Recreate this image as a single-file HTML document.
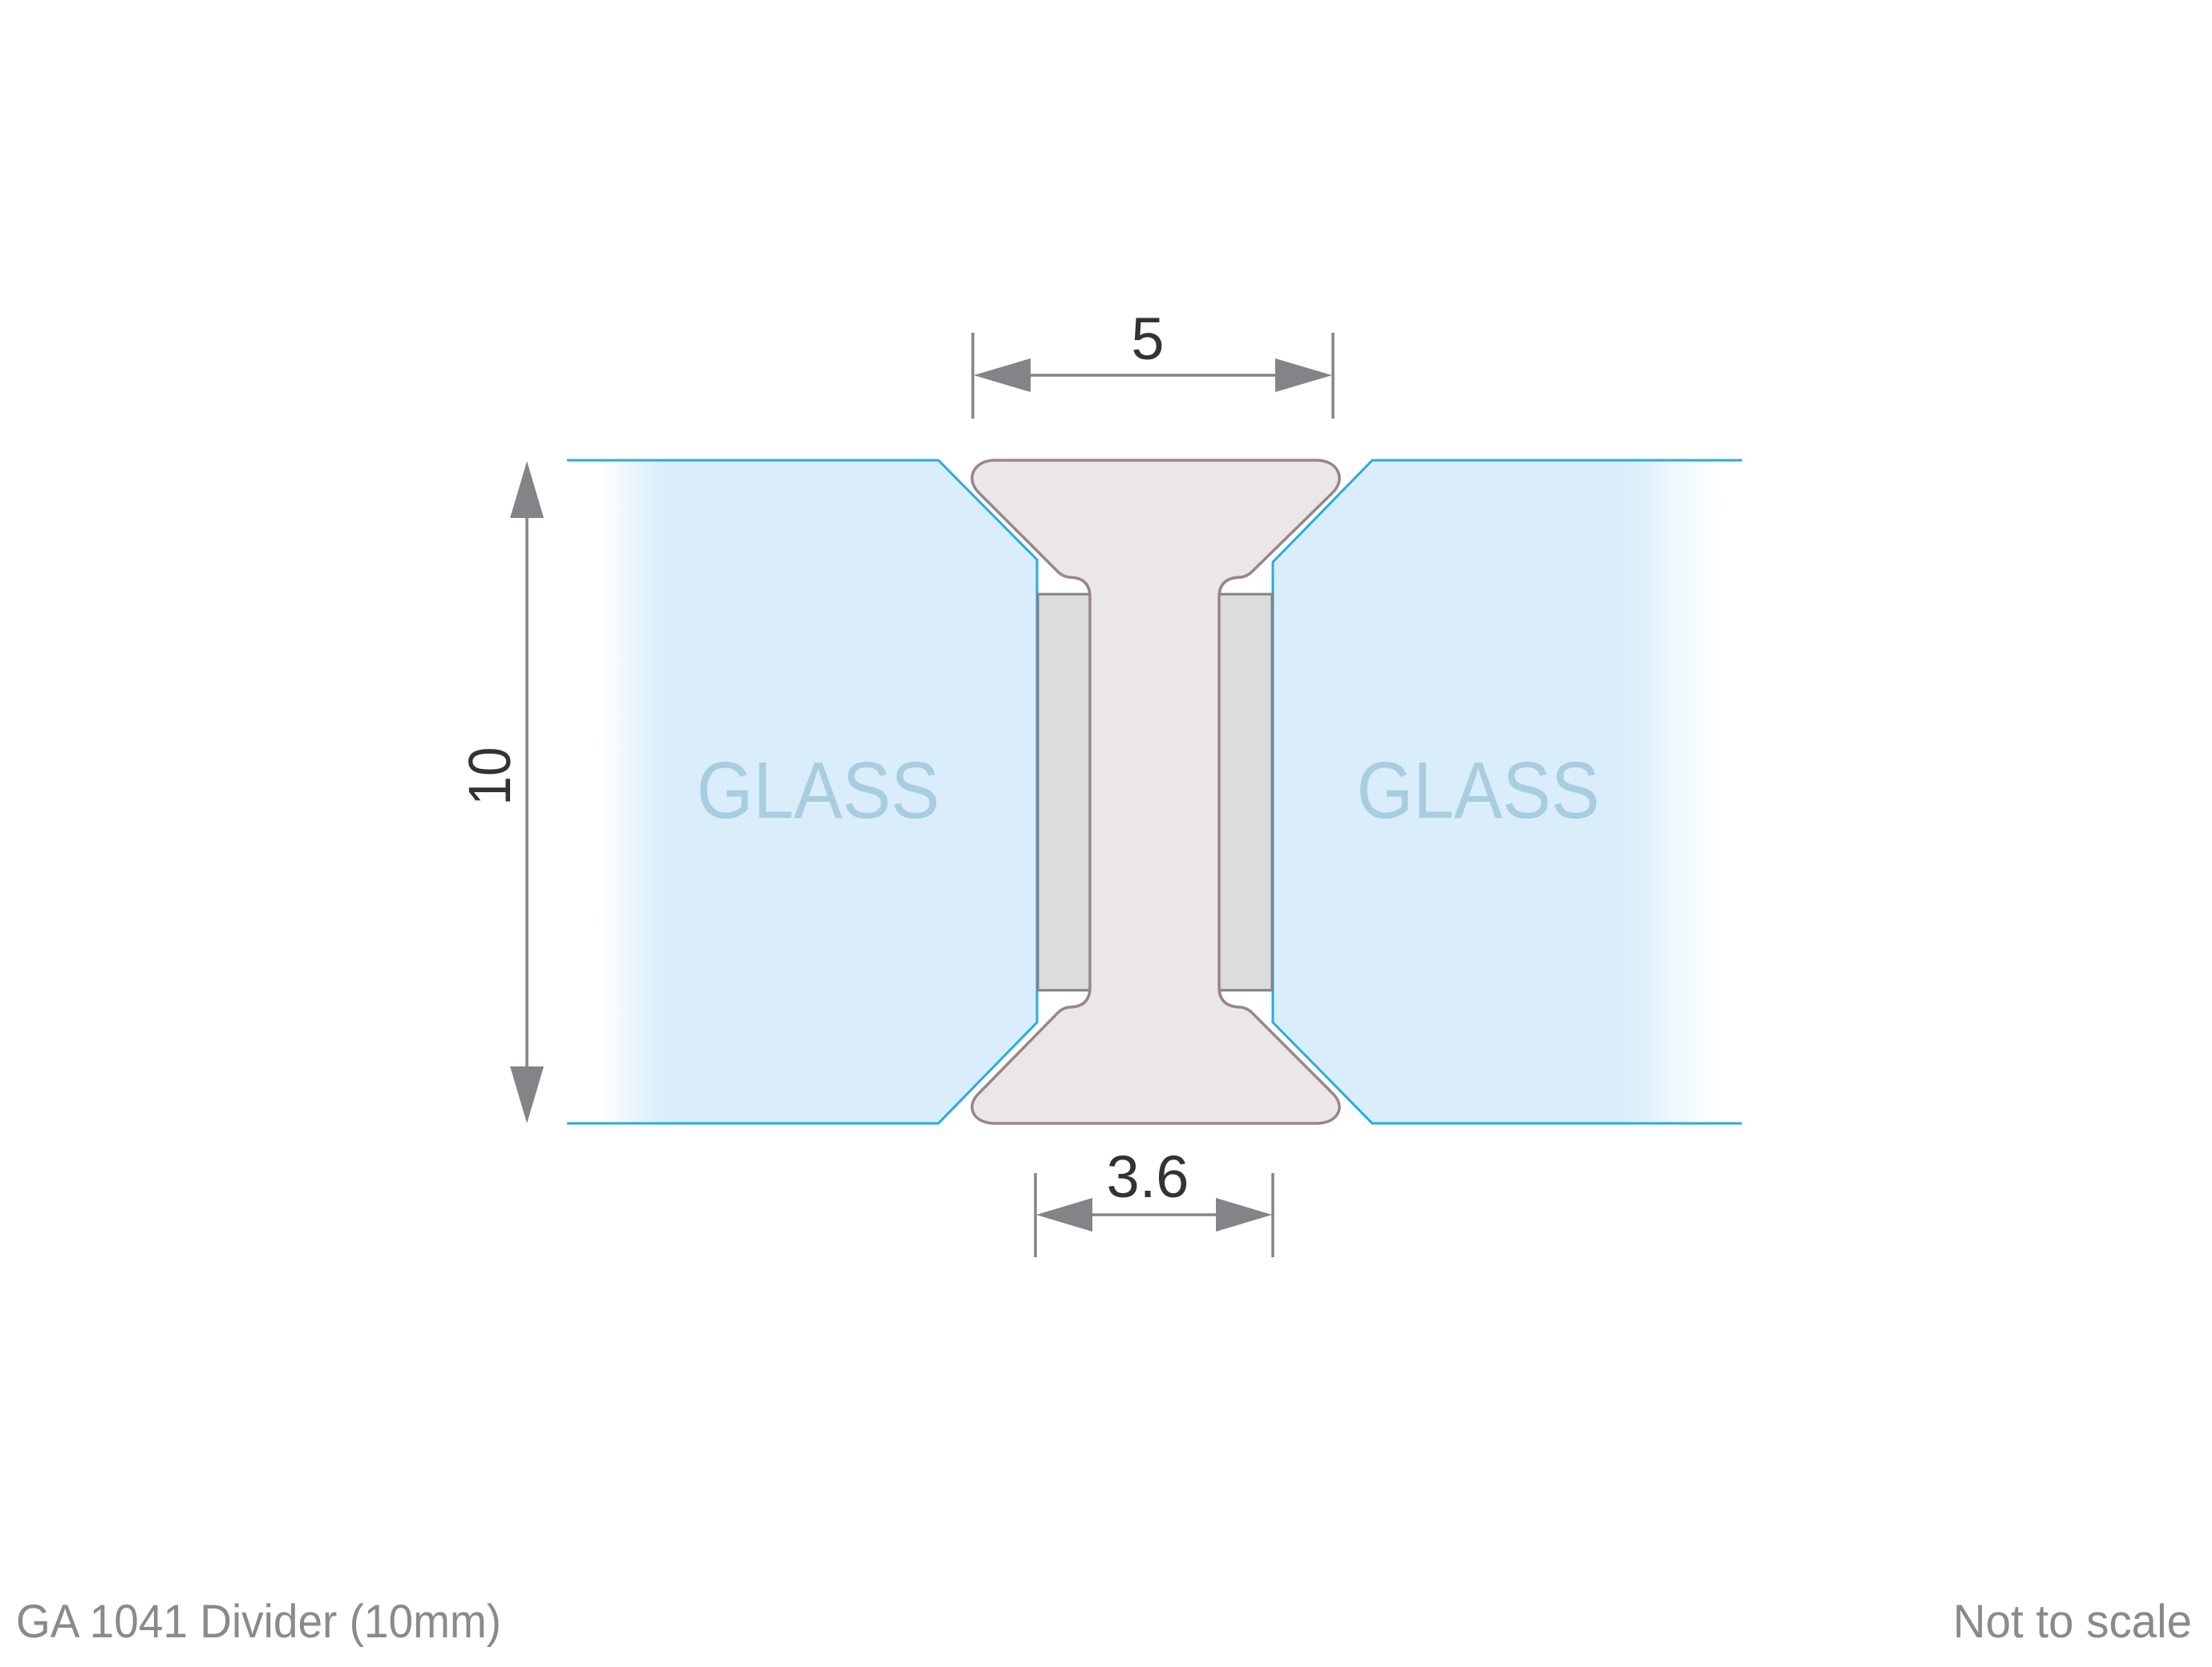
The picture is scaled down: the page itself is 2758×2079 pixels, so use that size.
<!DOCTYPE html>
<html><head><meta charset="utf-8"><style>
html,body{margin:0;padding:0;background:#fff;}
svg{display:block;}
text{font-family:"Liberation Sans",sans-serif;}
</style></head><body>
<svg width="2758" height="2079" viewBox="0 0 2758 2079" xmlns="http://www.w3.org/2000/svg">
<defs>
<linearGradient id="gl" x1="707" y1="0" x2="1293" y2="0" gradientUnits="userSpaceOnUse">
<stop offset="0" stop-color="#ffffff"/><stop offset="0.07" stop-color="#ffffff"/><stop offset="0.2" stop-color="#d9eefa"/><stop offset="1" stop-color="#d9eefa"/>
</linearGradient>
<linearGradient id="gr" x1="2172" y1="0" x2="1587" y2="0" gradientUnits="userSpaceOnUse">
<stop offset="0" stop-color="#ffffff"/><stop offset="0.05" stop-color="#ffffff"/><stop offset="0.25" stop-color="#d9eefa"/><stop offset="1" stop-color="#d9eefa"/>
</linearGradient>
</defs>
<rect width="2758" height="2079" fill="#fff"/>
<!-- glass -->
<polygon points="707,574 1170,574 1293,698 1293,1275 1170,1401 707,1401" fill="url(#gl)"/>
<polyline points="707,574 1170,574 1293,698 1293,1275 1170,1401 707,1401" fill="none" stroke="#29abe2" stroke-width="3"/>
<polygon points="2172,574 1711,574 1587,701 1587,1275 1711,1401 2172,1401" fill="url(#gr)"/>
<polyline points="2172,574 1711,574 1587,701 1587,1275 1711,1401 2172,1401" fill="none" stroke="#29abe2" stroke-width="3"/>
<text x="1020" y="1020" font-size="100" fill="#a9cddf" text-anchor="middle" textLength="303" lengthAdjust="spacingAndGlyphs">GLASS</text>
<text x="1843" y="1020" font-size="100" fill="#a9cddf" text-anchor="middle" textLength="303" lengthAdjust="spacingAndGlyphs">GLASS</text>
<!-- pads -->
<rect x="1294" y="741" width="65" height="494" fill="#dcdcde" stroke="#808083" stroke-width="3"/>
<rect x="1520" y="741" width="66" height="494" fill="#dcdcde" stroke="#808083" stroke-width="3"/>
<!-- profile -->
<path d="M1240,574 L1642,574 C1668,574 1680,598 1660,616 L1560,714 Q1553,720 1545,720 Q1520,721 1520,745 L1520,1231 Q1520,1255 1545,1256 Q1553,1256 1560,1262 L1660,1362 C1680,1380 1668,1401 1642,1401 L1240,1401 C1214,1401 1202,1380 1222,1362 L1320,1262 Q1327,1256 1335,1256 Q1359,1255 1359,1231 L1359,745 Q1359,721 1335,720 Q1327,720 1320,714 L1222,616 C1202,598 1214,574 1240,574 Z" fill="#ebe7e8" stroke="#9a8586" stroke-width="3.5"/>
<!-- top dim -->
<g stroke="#838487" stroke-width="3.5">
<line x1="1213" y1="415" x2="1213" y2="522"/><line x1="1662" y1="415" x2="1662" y2="522"/>
<line x1="1280" y1="468" x2="1596" y2="468"/>
<line x1="1291" y1="1463" x2="1291" y2="1568"/><line x1="1587" y1="1463" x2="1587" y2="1568"/>
<line x1="1360" y1="1515" x2="1520" y2="1515"/>
<line x1="657" y1="640" x2="657" y2="1335"/>
</g>
<g fill="#838487">
<polygon points="1214,468 1285,447 1285,489"/><polygon points="1661,468 1590,447 1590,489"/>
<polygon points="1292,1515 1362,1494 1362,1536"/><polygon points="1586,1515 1516,1494 1516,1536"/>
<polygon points="657,575 636,646 678,646"/><polygon points="657,1401 636,1330 678,1330"/>
</g>
<text x="1431" y="448" font-size="74" fill="#333335" text-anchor="middle">5</text>
<text x="1431" y="1493" font-size="74" fill="#333335" text-anchor="middle" textLength="103" lengthAdjust="spacingAndGlyphs">3.6</text>
<text transform="translate(636,968) rotate(-90)" font-size="74" fill="#333335" text-anchor="middle" textLength="73" lengthAdjust="spacingAndGlyphs">10</text>
<text x="20" y="2042" font-size="58" fill="#8a8a8d" textLength="605" lengthAdjust="spacingAndGlyphs">GA 1041 Divider (10mm)</text>
<text x="2733" y="2042" font-size="58" fill="#8a8a8d" text-anchor="end" textLength="298" lengthAdjust="spacingAndGlyphs">Not to scale</text>
</svg>
</body></html>
